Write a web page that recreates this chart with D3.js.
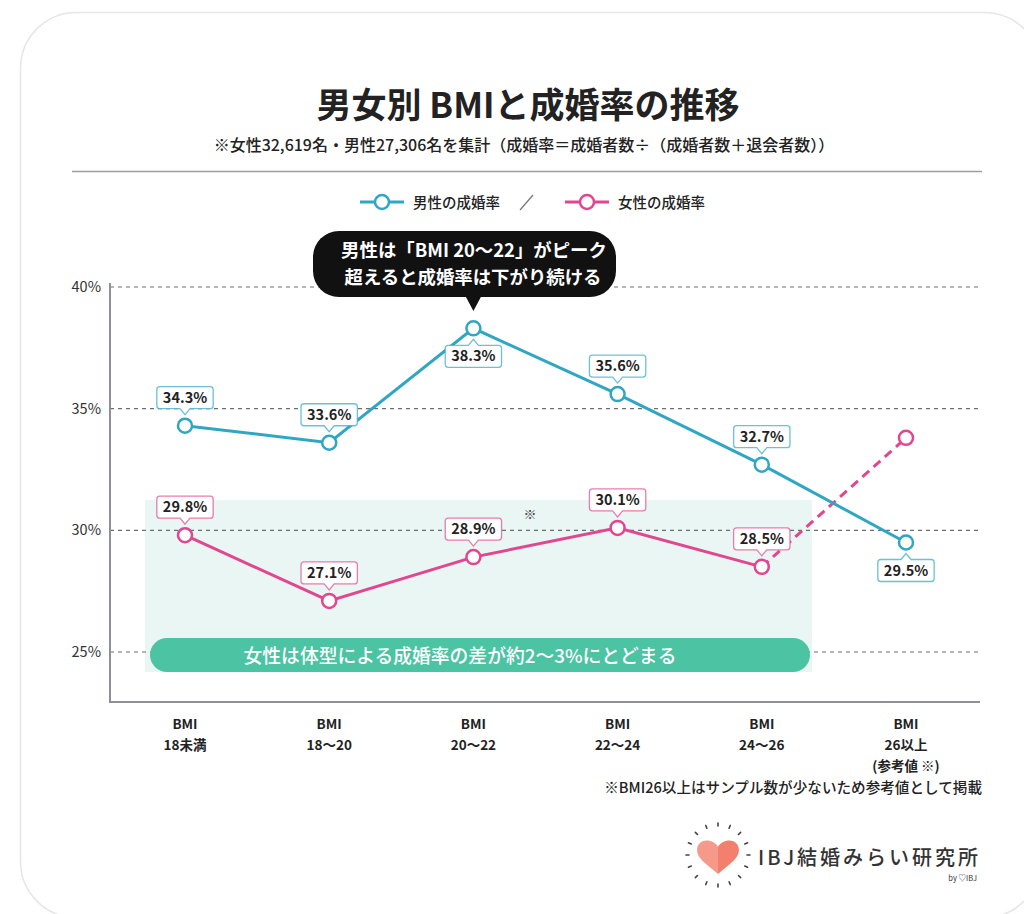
<!DOCTYPE html>
<html lang="ja">
<head>
<meta charset="utf-8">
<script src="https://cdn.jsdelivr.net/npm/d3@7"></script>
<style>
	html, body { margin: 0; padding: 0; background: #fff; }
	svg { display: block; font-family: "Noto Sans CJK JP", "Noto Sans", sans-serif; }
</style>
</head>
<body>
<svg id="chart" width="1024" height="914"></svg>
<script>
	/**
	 * Chart Data
	 */
	const categories = ["18未満", "18〜20", "20〜22", "22〜24", "24〜26", "26以上"];
	const categoryNotes = ["", "", "", "", "", "(参考値 ※)"];
	const maleRates = [34.3, 33.6, 38.3, 35.6, 32.7, 29.5];
	const femaleRates = [29.8, 27.1, 28.9, 30.1, 28.5, 33.8];
	// which labels sit below their point
	const maleLabelBelow = [false, false, true, false, false, true];
	const femaleShowLabel = [true, true, true, true, true, false];
	const yTicks = [25, 30, 35, 40];

	const maleColor = "#2fa6c3";
	const femaleColor = "#e2468f";
	const textColor = "#222";

	const svg = d3.select("#chart");

	/**
	 * Card + Title
	 */
	svg.append("rect")
		.attr("x", 20.5).attr("y", 12.5)
		.attr("width", 1020).attr("height", 905)
		.attr("rx", 56).attr("ry", 56)
		.attr("fill", "#fff")
		.attr("stroke", "#e6e6e6")
		.attr("stroke-width", 1.5);

	svg.append("text")
		.attr("x", 528).attr("y", 118)
		.attr("text-anchor", "middle")
		.attr("font-size", 35)
		.attr("font-weight", 700)
		.attr("fill", textColor)
		.text("男女別 BMIと成婚率の推移");

	svg.append("text")
		.attr("x", 524).attr("y", 151)
		.attr("text-anchor", "middle")
		.attr("font-size", 16)
		.attr("font-weight", 500)
		.attr("fill", textColor)
		.text("※女性32,619名・男性27,306名を集計（成婚率＝成婚者数÷（成婚者数＋退会者数））");

	svg.append("line")
		.attr("x1", 72).attr("x2", 982)
		.attr("y1", 171.5).attr("y2", 171.5)
		.attr("stroke", "#9a9ea4")
		.attr("stroke-width", 1.5);

	/**
	 * Legend
	 */
	const legend = svg.append("g").attr("transform", "translate(0,202)");
	[
		{ x: 360, color: maleColor, label: "男性の成婚率" },
		{ x: 565, color: femaleColor, label: "女性の成婚率" }
	].forEach(function(d) {
		legend.append("line")
			.attr("x1", d.x).attr("x2", d.x + 44)
			.attr("stroke", d.color).attr("stroke-width", 3);
		legend.append("circle")
			.attr("cx", d.x + 22).attr("r", 7)
			.attr("fill", "#fff").attr("stroke", d.color).attr("stroke-width", 2.5);
		legend.append("text")
			.attr("x", d.x + 53).attr("y", 5.5)
			.attr("font-size", 14.5).attr("font-weight", 500)
			.attr("fill", textColor)
			.text(d.label);
	});
	legend.append("line")
		.attr("x1", 520).attr("y1", 8).attr("x2", 533).attr("y2", -7)
		.attr("stroke", "#777").attr("stroke-width", 1.2);

	/**
	 * Scales
	 */
	const x = d3.scalePoint().domain(categories).range([185, 906]);
	const y = d3.scaleLinear().domain([25, 40]).range([652, 287]);
	const plotLeft = 110;
	const plotRight = 980;
	const plotBottom = 702;
	const plotTop = 283;

	/**
	 * Highlight band (female range)
	 */
	svg.append("rect")
		.attr("x", 145).attr("y", 500)
		.attr("width", 667).attr("height", 172)
		.attr("fill", "#e9f6f4");

	// gridlines
	svg.append("g")
		.selectAll("line")
		.data(yTicks)
		.join("line")
		.attr("x1", plotLeft).attr("x2", plotRight)
		.attr("y1", function(d) { return y(d); })
		.attr("y2", function(d) { return y(d); })
		.attr("stroke", "#6b6e72")
		.attr("stroke-width", 1.2)
		.attr("stroke-dasharray", "4,4");

	svg.append("g")
		.selectAll("text")
		.data(yTicks)
		.join("text")
		.attr("x", 101)
		.attr("y", function(d) { return y(d) + 5; })
		.attr("text-anchor", "end")
		.attr("font-size", 14.5)
		.attr("fill", "#333")
		.text(function(d) { return d + "%"; });

	// axis frame
	svg.append("path")
		.attr("d", "M" + plotLeft + "," + plotTop + "V" + plotBottom + "H" + plotRight)
		.attr("fill", "none")
		.attr("stroke", "#8d9096")
		.attr("stroke-width", 2);

	// note pill
	svg.append("rect")
		.attr("x", 150).attr("y", 638)
		.attr("width", 660).attr("height", 34)
		.attr("rx", 17).attr("ry", 17)
		.attr("fill", "#4cc3a2");
	svg.append("text")
		.attr("x", 460).attr("y", 663)
		.attr("text-anchor", "middle")
		.attr("font-size", 18.8)
		.attr("font-weight", 500)
		.attr("fill", "#fff")
		.text("女性は体型による成婚率の差が約2〜3%にとどまる");

	svg.append("text")
		.attr("x", 530).attr("y", 519)
		.attr("text-anchor", "middle")
		.attr("font-size", 13)
		.attr("fill", "#444")
		.text("※");

	/**
	 * X axis labels
	 */
	const xLabels = svg.append("g")
		.selectAll("text")
		.data(categories)
		.join("text")
		.attr("text-anchor", "middle")
		.attr("font-size", 13.5)
		.attr("font-weight", 700)
		.attr("fill", textColor);
	xLabels.append("tspan")
		.attr("x", function(d) { return x(d); })
		.attr("y", 729)
		.text("BMI");
	xLabels.append("tspan")
		.attr("x", function(d) { return x(d); })
		.attr("y", 750)
		.text(function(d) { return d; });
	xLabels.append("tspan")
		.attr("x", function(d) { return x(d); })
		.attr("y", 771)
		.text(function(d, i) { return categoryNotes[i]; });

	svg.append("text")
		.attr("x", 982).attr("y", 793)
		.attr("text-anchor", "end")
		.attr("font-size", 14.6)
		.attr("font-weight", 500)
		.attr("fill", textColor)
		.text("※BMI26以上はサンプル数が少ないため参考値として掲載");

	/**
	 * Lines
	 */
	const line = d3.line()
		.x(function(d) { return x(d.key); })
		.y(function(d) { return y(d.value); });

	const maleData = categories.map(function(c, i) { return { key: c, value: maleRates[i] }; });
	const femaleData = categories.map(function(c, i) { return { key: c, value: femaleRates[i] }; });

	svg.append("path")
		.attr("d", line(femaleData.slice(4)))
		.attr("fill", "none")
		.attr("stroke", femaleColor)
		.attr("stroke-width", 3)
		.attr("stroke-dasharray", "9,6");

	svg.append("path")
		.attr("d", line(femaleData.slice(0, 5)))
		.attr("fill", "none")
		.attr("stroke", femaleColor)
		.attr("stroke-width", 3);

	svg.append("path")
		.attr("d", line(maleData))
		.attr("fill", "none")
		.attr("stroke", maleColor)
		.attr("stroke-width", 3);

	function drawPoints(data, color) {
		svg.append("g")
			.selectAll("circle")
			.data(data)
			.join("circle")
			.attr("cx", function(d) { return x(d.key); })
			.attr("cy", function(d) { return y(d.value); })
			.attr("r", 7)
			.attr("fill", "#fff")
			.attr("stroke", color)
			.attr("stroke-width", 2.5);
	}
	drawPoints(femaleData, femaleColor);
	drawPoints(maleData, maleColor);

	/**
	 * Value labels with pointer
	 */
	function labelBox(px, py, below, text, color) {
		let g = svg.append("g");
		let h = 22;
		let gap = 17;
		let top = below ? py + gap : py - gap - h;
		let t = g.append("text")
			.attr("x", px)
			.attr("y", top + 16)
			.attr("text-anchor", "middle")
			.attr("font-size", 14.5)
			.attr("font-weight", 700)
			.attr("fill", textColor)
			.text(text);
		let w = t.node().getComputedTextLength() + 12;
		let l = px - w / 2, r = px + w / 2, b = top + h, rr = 3;
		let p = d3.path();
		p.moveTo(l + rr, top);
		if (below) {
			p.lineTo(px - 5, top);
			p.lineTo(px, top - 6);
			p.lineTo(px + 5, top);
		}
		p.lineTo(r - rr, top);
		p.quadraticCurveTo(r, top, r, top + rr);
		p.lineTo(r, b - rr);
		p.quadraticCurveTo(r, b, r - rr, b);
		if (!below) {
			p.lineTo(px + 5, b);
			p.lineTo(px, b + 6);
			p.lineTo(px - 5, b);
		}
		p.lineTo(l + rr, b);
		p.quadraticCurveTo(l, b, l, b - rr);
		p.lineTo(l, top + rr);
		p.quadraticCurveTo(l, top, l + rr, top);
		p.closePath();
		g.insert("path", "text")
			.attr("d", p.toString())
			.attr("fill", "#fff")
			.attr("stroke", color)
			.attr("stroke-opacity", 0.7)
			.attr("stroke-width", 1.3);
	}

	femaleData.forEach(function(d, i) {
		if (femaleShowLabel[i]) labelBox(x(d.key), y(d.value), false, d.value.toFixed(1) + "%", femaleColor);
	});
	maleData.forEach(function(d, i) {
		labelBox(x(d.key), y(d.value), maleLabelBelow[i], d.value.toFixed(1) + "%", maleColor);
	});

	/**
	 * Callout
	 */
	const callout = svg.append("g");
	const cx = x(categories[2]);
	callout.append("rect")
		.attr("x", 313).attr("y", 231)
		.attr("width", 303).attr("height", 66)
		.attr("rx", 26).attr("ry", 26)
		.attr("fill", "#111");
	callout.append("path")
		.attr("d", "M" + (cx - 8) + ",296L" + cx + ",311L" + (cx + 8) + ",296Z")
		.attr("fill", "#111");
	callout.append("text")
		.attr("x", 474).attr("y", 257)
		.attr("text-anchor", "middle")
		.attr("font-size", 18.4)
		.attr("font-weight", 700)
		.attr("fill", "#fff")
		.text("男性は「BMI 20〜22」がピーク");
	callout.append("text")
		.attr("x", 473).attr("y", 284)
		.attr("text-anchor", "middle")
		.attr("font-size", 18.4)
		.attr("font-weight", 700)
		.attr("fill", "#fff")
		.text("超えると成婚率は下がり続ける");

	/**
	 * Logo
	 */
	const logo = svg.append("g").attr("transform", "translate(718,855)");
	d3.range(16).forEach(function(i) {
		let a = i / 16 * 2 * Math.PI;
		logo.append("line")
			.attr("x1", Math.cos(a) * 29).attr("y1", Math.sin(a) * 29)
			.attr("x2", Math.cos(a) * 32).attr("y2", Math.sin(a) * 32)
			.attr("stroke", "#444").attr("stroke-width", 1.6)
			.attr("stroke-linecap", "round");
	});
	logo.append("path")
		.attr("d", "M0,-8 C-4,-16 -20,-18 -21,-5 C-21,4 -10,10 0,19 Z")
		.attr("fill", "#f59a88");
	logo.append("path")
		.attr("d", "M0,-8 C4,-16 20,-18 21,-5 C21,4 10,10 0,19 Z")
		.attr("fill", "#f37f6d");

	svg.append("text")
		.attr("x", 758).attr("y", 865)
		.attr("font-size", 20)
		.attr("font-weight", 500)
		.attr("letter-spacing", 3)
		.attr("fill", "#333")
		.text("IBJ結婚みらい研究所");
	svg.append("text")
		.attr("x", 977).attr("y", 881)
		.attr("text-anchor", "end")
		.attr("font-size", 7.5)
		.attr("fill", "#333")
		.text("by ♡IBJ");
</script>
</body>
</html>
